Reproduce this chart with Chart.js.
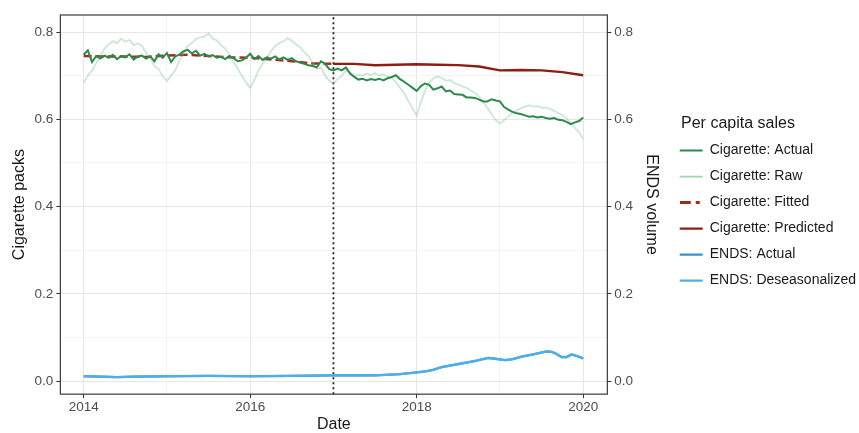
<!DOCTYPE html>
<html>
<head>
<meta charset="utf-8">
<script src="https://cdn.jsdelivr.net/npm/chart.js@4.4.1/dist/chart.umd.min.js"></script>
<style>
  html, body { margin: 0; padding: 0; background: #fff; }
  #wrap { width: 859px; height: 433px; position: relative; }
</style>
</head>
<body>
<div id="wrap"><canvas id="grafico"></canvas></div>
<script>
// eixo do tempo (anos decimais, passo de 0.05 ano)
const cigDates = Array.from({ length: 121 }, (_, i) => +(2014 + i * 0.05).toFixed(2));

const cigActual = [
  0.748, 0.758, 0.731, 0.745, 0.739, 0.746, 0.741, 0.748, 0.738, 0.745,
  0.742, 0.749, 0.737, 0.744, 0.746, 0.739, 0.744, 0.733, 0.749, 0.741,
  0.752, 0.731, 0.744, 0.748, 0.756, 0.759, 0.751, 0.757, 0.746, 0.750,
  0.744, 0.747, 0.741, 0.743, 0.738, 0.745, 0.740, 0.733, 0.735, 0.741,
  0.750, 0.738, 0.745, 0.736, 0.742, 0.739, 0.744, 0.737, 0.742, 0.736,
  0.740, 0.733, 0.730, 0.727, 0.724, 0.722, 0.719, 0.733, 0.727, 0.715,
  0.712, 0.716, 0.712, 0.719, 0.705, 0.697, 0.691, 0.693, 0.689, 0.692,
  0.690, 0.693, 0.689, 0.694, 0.697, 0.701, 0.692, 0.686, 0.679, 0.672,
  0.665, 0.676, 0.682, 0.679, 0.668, 0.671, 0.675, 0.664, 0.666, 0.658,
  0.657, 0.656, 0.650, 0.650, 0.649, 0.645, 0.641, 0.641, 0.646, 0.643,
  0.641, 0.628, 0.622, 0.617, 0.614, 0.612, 0.609, 0.606, 0.607, 0.604,
  0.606, 0.603, 0.601, 0.603, 0.599, 0.598, 0.594, 0.589, 0.593, 0.596,
  0.604
];

const cigRaw = [
  0.683, 0.700, 0.712, 0.728, 0.746, 0.762, 0.771, 0.779, 0.774, 0.785,
  0.778, 0.782, 0.770, 0.774, 0.768, 0.752, 0.741, 0.722, 0.715, 0.698,
  0.688, 0.700, 0.712, 0.735, 0.752, 0.768, 0.775, 0.784, 0.788, 0.790,
  0.797, 0.785, 0.781, 0.770, 0.762, 0.748, 0.732, 0.716, 0.700, 0.684,
  0.672, 0.690, 0.712, 0.728, 0.741, 0.756, 0.768, 0.775, 0.779, 0.786,
  0.780, 0.772, 0.765, 0.754, 0.745, 0.730, 0.716, 0.718, 0.700, 0.688,
  0.683, 0.692, 0.700, 0.712, 0.708, 0.700, 0.703, 0.700, 0.705, 0.702,
  0.706, 0.700, 0.703, 0.698, 0.694, 0.686, 0.672, 0.660, 0.642, 0.625,
  0.608, 0.640, 0.665, 0.684, 0.694, 0.698, 0.695, 0.688, 0.690, 0.683,
  0.680, 0.675, 0.672, 0.666, 0.660, 0.652, 0.640, 0.626, 0.612, 0.598,
  0.590, 0.598, 0.606, 0.615, 0.620, 0.625, 0.629, 0.632, 0.629, 0.630,
  0.626, 0.627, 0.624, 0.620, 0.614, 0.610, 0.602, 0.592, 0.580, 0.570,
  0.555
];

const fitDates = [2014, 2014.25, 2014.5, 2014.75, 2015, 2015.25, 2015.5, 2015.75, 2016, 2016.25, 2016.5, 2016.75, 2017];
const cigFitted = [0.745, 0.744, 0.744, 0.743, 0.746, 0.748, 0.745, 0.742, 0.741, 0.737, 0.733, 0.728, 0.727];

const predDates = [2017, 2017.25, 2017.5, 2017.75, 2018, 2018.25, 2018.5, 2018.75, 2019, 2019.25, 2019.5, 2019.75, 2020];
const cigPredicted = [0.727, 0.727, 0.724, 0.725, 0.726, 0.725, 0.724, 0.721, 0.712, 0.713, 0.712, 0.708, 0.701];

const endsDates = [2014, 2014.2, 2014.4, 2014.6, 2015, 2015.5, 2016, 2016.5, 2017, 2017.5, 2017.8, 2018, 2018.1, 2018.2,
  2018.3, 2018.5, 2018.7, 2018.86, 2018.95, 2019.06, 2019.15, 2019.26, 2019.4, 2019.56, 2019.62, 2019.67, 2019.74, 2019.8,
  2019.86, 2019.93, 2020];
const endsActual = [0.011, 0.010, 0.009, 0.010, 0.011, 0.012, 0.011, 0.012, 0.013, 0.013, 0.016, 0.020, 0.022, 0.026,
  0.032, 0.039, 0.046, 0.053, 0.051, 0.048, 0.050, 0.056, 0.061, 0.068, 0.067, 0.063, 0.055, 0.055,
  0.061, 0.057, 0.052];
const endsDeseason = endsActual.slice();

const interventionYear = 2017;
const xTicks = [2014, 2015, 2016, 2017, 2018, 2019, 2020];
const yTicks = [0, 0.1, 0.2, 0.3, 0.4, 0.5, 0.6, 0.7, 0.8];
const xMin = 2013.72, xMax = 2020.29, yMin = -0.03, yMax = 0.839;

const pontos = (xs, ys) => xs.map((x, i) => ({ x: x, y: ys[i] }));

const fonte = "'Liberation Sans', Arial, sans-serif";
const isMajorX = (v) => v % 2 === 0;
const isMajorY = (v) => Math.round(v * 10) % 2 === 0;

// chave tracejada da legenda ("- ·") para a serie ajustada
const chaveFitted = document.createElement("canvas");
chaveFitted.width = 23;
chaveFitted.height = 3;
{
  const k = chaveFitted.getContext("2d");
  k.fillStyle = "#a32b1d";
  k.fillRect(0, 0, 11, 3);
  k.fillRect(16, 0, 4, 3);
}

// moldura do painel (estilo theme_bw)
const moldura = {
  id: "moldura",
  afterDatasetsDraw(chart) {
    const a = chart.chartArea;
    const c = chart.ctx;
    c.save();
    c.strokeStyle = "#3a3a3a";
    c.lineWidth = 1.2;
    c.strokeRect(a.left, a.top, a.right - a.left, a.bottom - a.top);
    c.restore();
  },
};

const eixoY = (pos, titulo, pad) => ({
  type: "linear",
  position: pos,
  min: yMin,
  max: yMax,
  afterBuildTicks: (axis) => { axis.ticks = yTicks.map((v) => ({ value: v })); },
  border: { display: false },
  grid: {
    color: (c) => (isMajorY(c.tick.value) ? "#e6e6e6" : "#f3f3f3"),
    lineWidth: 1,
    tickLength: 4,
    tickColor: (c) => (isMajorY(c.tick.value) ? "#333" : "rgba(0,0,0,0)"),
    drawOnChartArea: pos === "left",
  },
  ticks: {
    padding: 3,
    color: "#4d4d4d",
    font: { family: fonte, size: 13.5, lineHeight: 1.1 },
    callback: (v) => (isMajorY(v) ? v.toFixed(1) : ""),
  },
  title: {
    display: true,
    text: titulo,
    color: "#1a1a1a",
    font: { family: fonte, size: 16, lineHeight: 1.1 },
    padding: { top: pad, bottom: pad },
  },
});

new Chart(document.getElementById("grafico"), {
  type: "line",
  data: {
    datasets: [
      { label: "Cigarette: Actual", data: pontos(cigDates, cigActual), borderColor: "#2e8a4c", borderWidth: 2 },
      { label: "Cigarette: Raw", data: pontos(cigDates, cigRaw), borderColor: "rgba(120,195,145,0.38)", borderWidth: 1.8 },
      { label: "Cigarette: Fitted", data: pontos(fitDates, cigFitted), borderColor: "#a32b1d", borderWidth: 2.4, borderDash: [8, 4] },
      { label: "Cigarette: Predicted", data: pontos(predDates, cigPredicted), borderColor: "#8e1d13", borderWidth: 2.4 },
      { label: "ENDS: Actual", data: pontos(endsDates, endsActual), borderColor: "#3b8fd3", borderWidth: 2.2, yAxisID: "y2" },
      { label: "ENDS: Deseasonalized", data: pontos(endsDates, endsDeseason), borderColor: "#4dafe6", borderWidth: 2.4, yAxisID: "y2", order: -1 },
      {
        label: "intervention",
        data: pontos([interventionYear, interventionYear], [yMin, yMax]),
        borderColor: "#222",
        borderWidth: 1.8,
        borderDash: [2, 3],
      },
    ],
  },
  options: {
    responsive: true,
    maintainAspectRatio: false,
    animation: false,
    elements: { point: { radius: 0 }, line: { tension: 0 } },
    layout: { padding: { left: 8, right: -7, top: 15, bottom: 0 } },
    scales: {
      x: {
        type: "linear",
        min: xMin,
        max: xMax,
        afterBuildTicks: (axis) => { axis.ticks = xTicks.map((v) => ({ value: v })); },
        border: { display: false },
        grid: {
          color: (c) => (isMajorX(c.tick.value) ? "#e6e6e6" : "#f3f3f3"),
          tickLength: 4,
          tickColor: (c) => (isMajorX(c.tick.value) ? "#333" : "rgba(0,0,0,0)"),
        },
        ticks: {
          padding: 2,
          maxRotation: 0,
          color: "#4d4d4d",
          font: { family: fonte, size: 13.5, lineHeight: 1.1 },
          callback: (v) => (isMajorX(v) ? String(v) : ""),
        },
        title: {
          display: true,
          text: "Date",
          color: "#1a1a1a",
          font: { family: fonte, size: 16, lineHeight: 1.0 },
          padding: 0,
        },
      },
      y: eixoY("left", "Cigarette packs", 3),
      y2: eixoY("right", "ENDS volume", 7),
    },
    plugins: {
      tooltip: { enabled: false },
      legend: {
        position: "right",
        fullSize: false,
        maxWidth: 230,
        title: {
          display: true,
          text: "   Per capita sales",
          position: "start",
          color: "#1a1a1a",
          font: { family: fonte, size: 16, lineHeight: 1.0 },
          padding: { top: 6, bottom: 0 },
        },
        labels: {
          usePointStyle: true,
          pointStyle: "line",
          pointStyleWidth: 23,
          padding: 12,
          color: "#1a1a1a",
          font: { family: fonte, size: 14 },
          filter: (item) => item.text !== "intervention",
          sort: (a, b) => a.datasetIndex - b.datasetIndex,
          generateLabels: (chart) => {
            const itens = Chart.defaults.plugins.legend.labels.generateLabels(chart);
            itens.forEach((it) => {
              if (it.text === "Cigarette: Fitted") it.pointStyle = chaveFitted;
              if (it.text === "Cigarette: Raw") it.strokeStyle = "#9fd2ae";
            });
            return itens;
          },
        },
      },
    },
  },
  plugins: [moldura],
});
</script>
</body>
</html>
